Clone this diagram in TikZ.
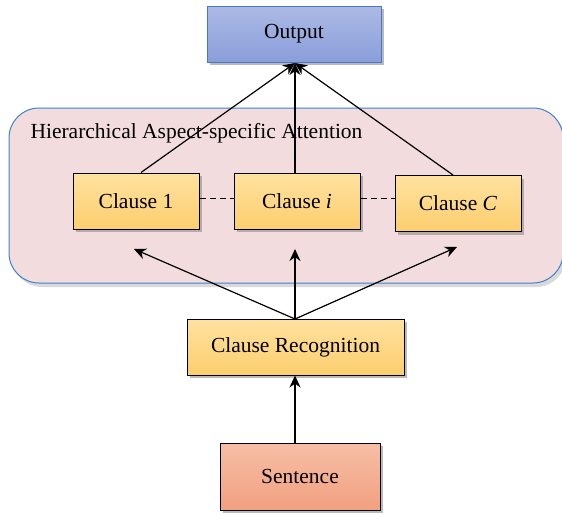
\documentclass[tikz,border=0pt]{standalone}
\usepackage{fontspec}
\setmainfont{Liberation Serif}
\usetikzlibrary{shadows,arrows.meta}
\begin{document}
\begin{tikzpicture}[x=1pt,y=-1pt,
  font=\fontsize{21.5}{24}\selectfont,
  shade box/.style={draw=black, line width=1pt, minimum height=56pt, inner sep=0pt,
    drop shadow={shadow xshift=3pt, shadow yshift=-3pt, fill=black!45, opacity=0.6}},
  clausebox/.style={shade box,
    top color={rgb,255:red,255;green,226;blue,160}, bottom color={rgb,255:red,252;green,206;blue,110}},
  outbox/.style={shade box, draw={rgb,255:red,70;green,120;blue,210},
    top color={rgb,255:red,172;green,186;blue,228}, bottom color={rgb,255:red,138;green,158;blue,218}},
  sentbox/.style={shade box,
    top color={rgb,255:red,246;green,190;blue,166}, bottom color={rgb,255:red,242;green,160;blue,128}},
  link/.style={-{Stealth[length=12pt,width=11pt]}, line width=1.2pt},
  gap/.style={dash pattern=on 6pt off 4pt, line width=1pt}
]
\useasboundingbox (0,0) rectangle (562,514);
% attention panel
\fill[black!25, opacity=0.6, rounded corners=30pt] (12,112) rectangle (566,287);
\draw[rounded corners=30pt, fill={rgb,255:red,242;green,220;blue,222}, draw={rgb,255:red,60;green,130;blue,205}, line width=1pt]
  (9,108) rectangle (563,283);
\node[anchor=west, font=\fontsize{21.5}{24}\selectfont] (title) at (27,133) {Hierarchical Aspect-specific Attention};

% boxes
\node[outbox, minimum width=174pt, minimum height=56pt] (out) at (294,34) {Output};
\node[clausebox, minimum width=126pt] (c1) at (136,201) {Clause 1};
\node[clausebox, minimum width=126pt] (ci) at (297,201) {Clause \textit{i}};
\node[clausebox, minimum width=126pt] (cC) at (458,203.5) {Clause \textit{C}};
\node[clausebox, minimum width=217pt] (rec) at (295.5,347) {Clause Recognition};
\node[sentbox, minimum width=160pt, minimum height=67pt] (sen) at (300,476.5) {Sentence};

% links between clauses
\draw[gap] ([yshift=3pt]c1.east) -- ([yshift=3pt]c1.east -| ci.west);
\draw[gap] ([yshift=3pt]ci.east) -- ([yshift=3pt]ci.east -| cC.west);

% coordinates for arrow targets
\coordinate (top) at (295,63);
\coordinate (t1) at (134,249);
\coordinate (ti) at (295,249);
\coordinate (tC) at (457,247);
\coordinate (rtop) at (295,319);

\draw[link] ([xshift=5pt]c1.north) -- (top);
\draw[link] (ci.north -| top) -- (top);
\draw[link] ([xshift=-5pt]cC.north) -- (top);
\draw[link] (rtop) -- (t1);
\draw[link] (rtop) -- (ti);
\draw[link] (rtop) -- (tC);
\draw[link] (sen.north -| rtop) -- (rec.south -| rtop);
\end{tikzpicture}
\end{document}
